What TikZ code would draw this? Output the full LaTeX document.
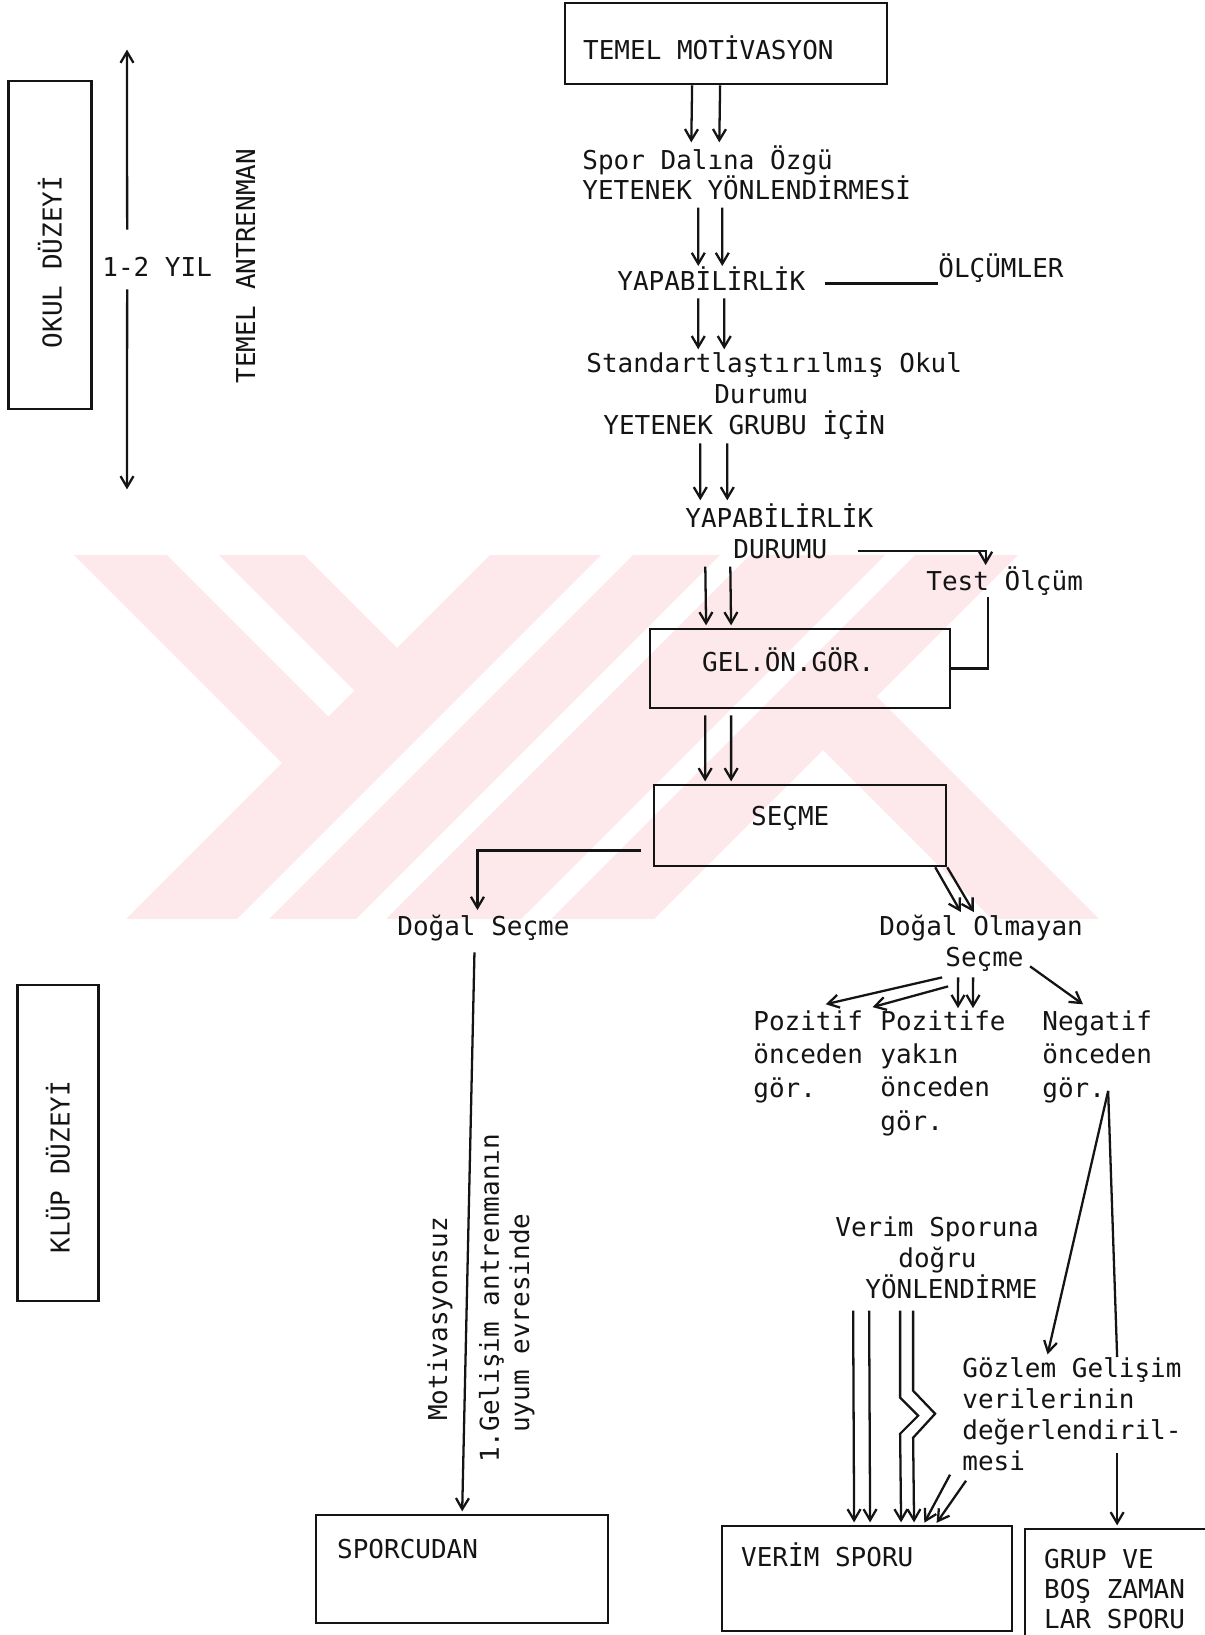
\documentclass[tikz,border=0pt]{standalone}
\usepackage{fontspec}
\setmainfont{DejaVu Sans Mono}
\usetikzlibrary{arrows.meta}
\definecolor{SporInk}{RGB}{20,20,20}
\definecolor{SporPink}{RGB}{253,233,236}
\tikzset{
  spor/text/.style={
    font=\fontsize{14.8pt}{17.6pt}\selectfont,
    text=SporInk,
    inner sep=0pt,
    text height=0.44cm,
    text depth=0.14cm,
    anchor=base west
  },
  spor/lines/.style={spor/text, align=left, text height={}, text depth={}},
  spor/box/.style={
    draw=SporInk,
    line width=1.3pt,
    font=\fontsize{14.8pt}{17.1pt}\selectfont,
    text=SporInk,
    inner ysep=0pt,
    align=flush left,
    anchor=north west
  },
  spor/arrow/.style={-{Straight Barb[length=2.2mm,width=2.6mm]}, line width=1.3pt, draw=SporInk, shorten >=1.5pt},
  spor/line/.style={line width=1.3pt, draw=SporInk},
  spor/mark/.style={fill=SporPink}
}
\begin{document}
\begin{tikzpicture}[x=0.02cm,y=-0.02cm]
  \useasboundingbox (0,0) rectangle (1204,1635);
  % faint logo behind the middle part
  \begin{scope}
    \clip (0,555) rectangle (1204,918);
    \fill[spor/mark] (74,555) -- (167,555) -- (356,744) -- (309.5,790.5) -- cycle;
    \fill[spor/mark] (219,555) -- (304,555) -- (424.5,675.5) -- (382,718) -- cycle;
    \fill[spor/mark] (505,540) -- (616,540) -- (226,930) -- (115,930) -- cycle;
    \fill[spor/mark] (648,540) -- (735,540) -- (345,930) -- (258,930) -- cycle;
    \fill[spor/mark] (765,540) -- (900,540) -- (510,930) -- (375,930) -- cycle;
    \fill[spor/mark] (930,540) -- (1033,540) -- (643,930) -- (540,930) -- cycle;
    \fill[spor/mark] (786.5,713.5) -- (840,660) -- (1110,930) -- (1003,930) -- cycle;
  \end{scope}

  % left column
  \node[spor/box, anchor=center, align=center, rotate=90, minimum width=6.56cm, minimum height=1.66cm] (okul) at (50,245) {OKUL DÜZEYİ\hspace*{0.68cm}};
  \node[spor/text] (yil) at (102,277) {1-2 YIL};
  \coordinate (yiltop) at (127,47);
  \coordinate (yilbot) at (127,492);
  \draw[spor/arrow] ([xshift=-0.6cm,yshift=0.5cm]yil.north) -- (yiltop);
  \draw[spor/arrow] ([xshift=-0.6cm,yshift=-0.1cm]yil.south) -- (yilbot);
  \node[spor/text, rotate=90] (antr) at (255,384) {TEMEL ANTRENMAN};
  \node[spor/box, anchor=center, align=center, rotate=90, minimum width=6.32cm, minimum height=1.62cm] (klup) at (58,1143) {KLÜP DÜZEYİ\hspace*{0.96cm}};

  % main column
  \node[spor/box, inner xsep=0.36cm, text width=5.72cm, text height=1.12cm, text depth=0.5cm] (mot) at (564,2) {TEMEL MOTİVASYON};
  \node[spor/lines] (spor) at (582,200) {Spor Dalına Özgü\\YETENEK YÖNLENDİRMESİ};
  \node[spor/text] (yap1) at (617,291) {YAPABİLİRLİK};
  \node[spor/text] (olc) at (938,278) {ÖLÇÜMLER};
  \node[spor/lines] (std) at (586,434) {Standartlaştırılmış Okul\\\hspace*{2.56cm}Durumu\\\hspace*{0.34cm}YETENEK GRUBU İÇİN};
  \node[spor/lines] (yap2) at (685,558) {YAPABİLİRLİK\\\hspace*{0.96cm}DURUMU};
  \node[spor/text] (test) at (926,590) {Test Ölçüm};
  \node[spor/box, inner xsep=1.04cm, text width=3.92cm, text height=0.84cm, text depth=0.74cm] (gel) at (649,628) {GEL.ÖN.GÖR.};
  \node[spor/box, inner xsep=1.94cm, text width=1.96cm, text height=0.81cm, text depth=0.81cm] (secme) at (653,784) {SEÇME};

  \foreach \a/\b in {-0.68cm/-1.11cm,-0.12cm/-0.55cm}
    \draw[spor/arrow] ([xshift=\a]mot.south) -- ([xshift=\b]spor.north);
  \foreach \a/\b in {-0.97cm/-0.26cm,-0.49cm/0.22cm}
    \draw[spor/arrow] ([xshift=\a,yshift=-0.14cm]spor.south) -- ([xshift=\b]yap1.north);
  \foreach \a/\b in {-0.26cm/-1.52cm,0.26cm/-1.0cm}
    \draw[spor/arrow] ([xshift=\a]yap1.south) -- ([xshift=\b]std.north);
  \foreach \a/\b in {-1.48cm/-1.58cm,-0.94cm/-1.04cm}
    \draw[spor/arrow] ([xshift=\a,yshift=-0.08cm]std.south) -- ([xshift=\b]yap2.north);
  \foreach \a/\b in {-1.48cm/-1.88cm,-0.98cm/-1.38cm}
    \draw[spor/arrow] ([xshift=\a,yshift=-0.16cm]yap2.south) -- ([xshift=\b]gel.north);
  \foreach \a in {-1.9cm,-1.38cm}
    \draw[spor/arrow] ([xshift=\a,yshift=-0.12cm]gel.south) -- ([xshift=\a]secme.north);
  \draw[spor/line] ([xshift=0.38cm]yap1.east) -- (yap1.east -| olc.west);
  \draw[spor/arrow] ([xshift=-0.32cm,yshift=0.16cm]yap2.south east) -| ([xshift=-0.38cm]test.north);
  \draw[spor/line] ([xshift=-0.34cm]test.south) |- (gel.east);

  % selection branches
  \node[spor/text] (dogal) at (397,935) {Doğal Seçme};
  \node[spor/lines] (dolm) at (879,966) {Doğal Olmayan\\\hspace*{1.32cm}Seçme};
  \node[spor/lines, font=\fontsize{14.8pt}{18.8pt}\selectfont] (poz1) at (753,1097) {Pozitif\\önceden\\gör.};
  \node[spor/lines, font=\fontsize{14.8pt}{18.8pt}\selectfont] (poz2) at (880,1130) {Pozitife\\yakın\\önceden\\gör.};
  \node[spor/lines, font=\fontsize{14.8pt}{18.8pt}\selectfont] (neg) at (1042,1097) {Negatif\\önceden\\gör.};
  \draw[spor/arrow] ([xshift=-0.24cm,yshift=-0.5cm]secme.west) -| ([xshift=-0.12cm]dogal.north);
  \draw[spor/arrow] ([xshift=-0.24cm]secme.south east) -- ([xshift=-0.38cm]dolm.north);
  \draw[spor/arrow] (secme.south east) -- ([xshift=-0.12cm]dolm.north);
  \draw[spor/arrow] ([xshift=-0.78cm,yshift=-0.12cm]dolm.south) -- ([xshift=0.3cm,yshift=0.12cm]poz1.north);
  \draw[spor/arrow] ([xshift=-0.66cm,yshift=-0.3cm]dolm.south) -- ([xshift=-0.2cm,yshift=0.06cm]poz2.north west);
  \draw[spor/arrow] ([xshift=-0.46cm,yshift=-0.12cm]dolm.south) -- ([xshift=0.3cm]poz2.north);
  \draw[spor/arrow] ([xshift=-0.16cm,yshift=-0.12cm]dolm.south) -- ([xshift=0.6cm]poz2.north);
  \draw[spor/arrow] ([xshift=0.98cm,yshift=0.1cm]dolm.south) -- ([xshift=-0.24cm,yshift=0.1cm]neg.north);

  % lower part
  \node[spor/text, rotate=90] (motsuz) at (447,1421) {Motivasyonsuz};
  \node[spor/lines, rotate=90, font=\fontsize{14.8pt}{17.1pt}\selectfont] (uyum) at (529,1463) {1.Gelişim antrenmanın\\\hspace*{0.6cm}uyum evresinde};
  \node[spor/lines] (verimy) at (835,1298) {Verim Sporuna\\\hspace*{1.26cm}doğru\\\hspace*{0.6cm}YÖNLENDİRME};
  \node[spor/lines] (gozlem) at (962,1470) {Gözlem Gelişim\\verilerinin\\değerlendiril-\\mesi};
  \node[spor/box, inner xsep=0.42cm, text width=5cm, text height=0.86cm, text depth=1.3cm] (sporc) at (315,1514) {SPORCUDAN};
  \node[spor/box, inner xsep=0.38cm, text width=5.04cm, text height=0.8cm, text depth=1.3cm] (verim) at (721,1525) {VERİM SPORU};
  \node[spor/box, inner xsep=0.38cm, text width=3.24cm, text height=0.78cm, text depth=1.66cm] (grup) at (1024,1528) {GRUP VE\\BOŞ ZAMAN\\LAR SPORU};

  \draw[spor/arrow] ([xshift=-0.18cm,yshift=-0.2cm]dogal.south) -- (sporc.north);
  \draw[spor/arrow] ([xshift=0.22cm,yshift=0.24cm]neg.south) -- ([xshift=-0.5cm]gozlem.north);
  \draw[spor/line] ([xshift=0.22cm,yshift=0.24cm]neg.south) -- ([xshift=-0.16cm]grup.north |- gozlem.north);
  \draw[spor/arrow] ([xshift=-0.16cm]grup.north) ++(0,-75) -- ([xshift=-0.16cm]grup.north);
  \foreach \a/\b in {-1.68cm/-0.26cm,-1.36cm/0.06cm}
    \draw[spor/arrow] ([xshift=\a,yshift=-0.24cm]verimy.south) -- ([xshift=\b]verim.north);
  \draw[spor/arrow] ([xshift=-0.74cm,yshift=-0.24cm]verimy.south) -- ++(0,87) -- ++(18,18) -- ++(-18,18) -- ([xshift=0.68cm]verim.north);
  \draw[spor/arrow] ([xshift=-0.48cm,yshift=-0.24cm]verimy.south) -- ++(0,80) -- ++(22,23) -- ++(-22,24) -- ([xshift=0.94cm]verim.north);
  \draw[spor/arrow] ([xshift=-0.24cm,yshift=-0.08cm]gozlem.south west) -- ([xshift=1.12cm]verim.north);
  \draw[spor/arrow] ([xshift=0.08cm,yshift=-0.2cm]gozlem.south west) -- ([xshift=1.36cm]verim.north);
\end{tikzpicture}
\end{document}
